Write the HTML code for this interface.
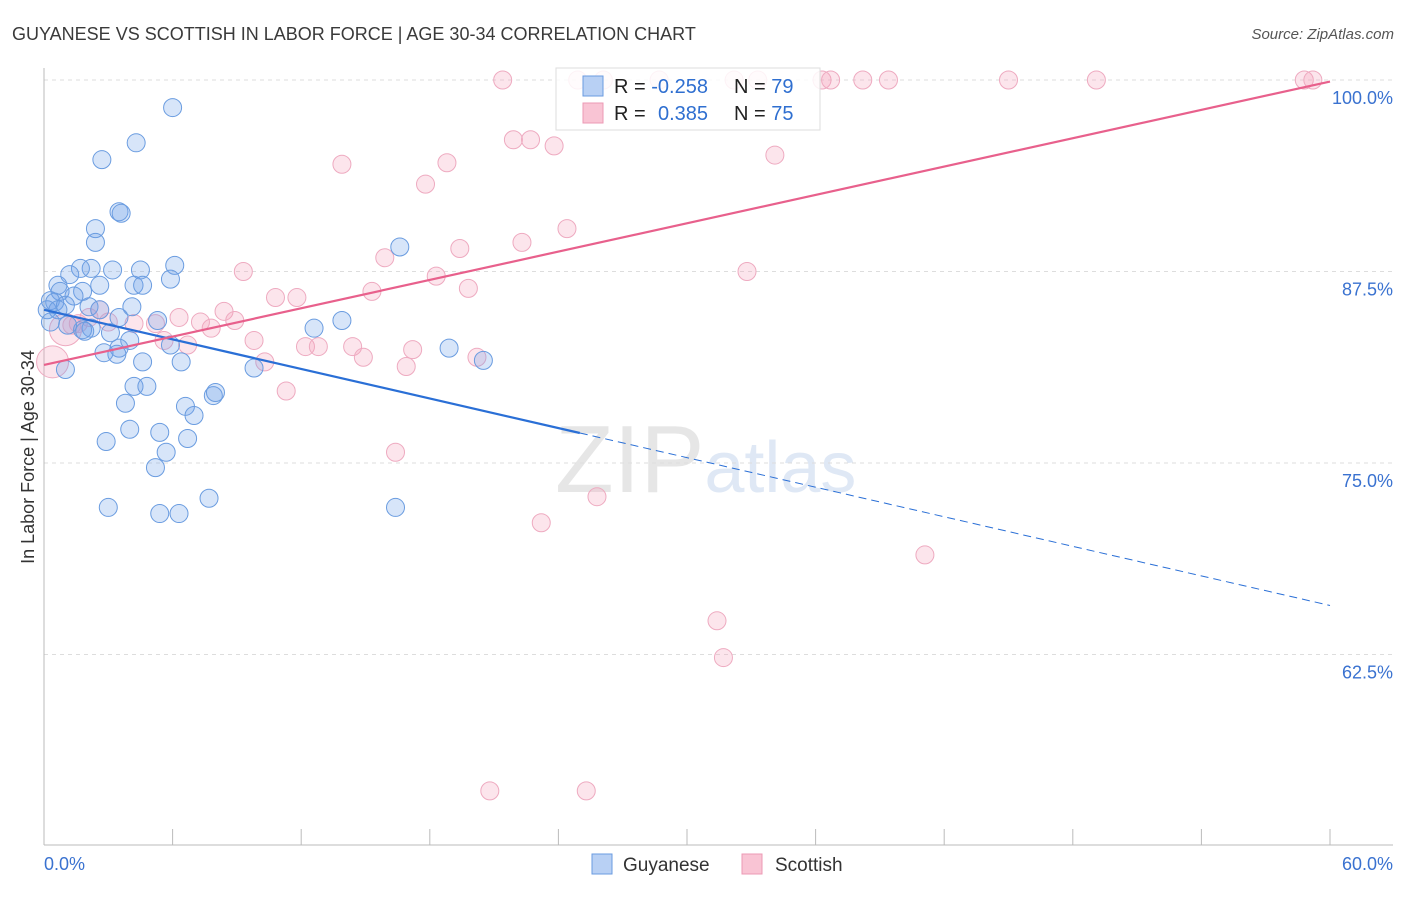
<!DOCTYPE html>
<html><head><meta charset="utf-8"><style>
body{margin:0;background:#fff;font-family:"Liberation Sans",sans-serif}
svg text{font-family:"Liberation Sans",sans-serif}
</style></head><body>
<svg id="c" width="1406" height="892" xmlns="http://www.w3.org/2000/svg">
<text x="12" y="40" font-size="18" fill="#3a3a3a">GUYANESE VS SCOTTISH IN LABOR FORCE | AGE 30-34 CORRELATION CHART</text>
<text x="1394" y="39" font-size="15" fill="#555" font-style="italic" text-anchor="end">Source: ZipAtlas.com</text>
<text x="555" y="492" font-size="96" fill="#e6e6e6" font-family="Liberation Serif">ZIP<tspan fill="#dfe8f5" font-family="Liberation Sans" font-size="72">atlas</tspan></text>
<text transform="translate(34,457) rotate(-90)" font-size="18" fill="#333" text-anchor="middle">In Labor Force | Age 30-34</text>
<g id="grid"></g><g id="pts"></g><g id="lines"></g>
<g>
<rect x="556" y="68" width="264" height="62" fill="#fff" fill-opacity="0.85" stroke="#ddd"/>
<rect x="583" y="76" width="20" height="20" fill="#b8d0f4" stroke="#6a9be0"/>
<rect x="583" y="103" width="20" height="20" fill="#f9c4d4" stroke="#ec9ab4"/>
<text x="614" y="93" font-size="20" fill="#222">R = <tspan fill="#2f6fd0">-0.258</tspan></text>
<text x="734" y="93" font-size="20" fill="#222">N = <tspan fill="#2f6fd0">79</tspan></text>
<text x="614" y="120" font-size="20" fill="#222">R = <tspan fill="#2f6fd0" x="658">0.385</tspan></text>
<text x="734" y="120" font-size="20" fill="#222">N = <tspan fill="#2f6fd0">75</tspan></text>
</g>
<g>
<rect x="592" y="854" width="20" height="20" fill="#b8d0f4" stroke="#6a9be0"/>
<text x="623" y="871" font-size="19" fill="#333">Guyanese</text>
<rect x="742" y="854" width="20" height="20" fill="#f9c4d4" stroke="#ec9ab4"/>
<text x="775" y="871" font-size="19" fill="#333">Scottish</text>
</g>
</svg>
<script>
const blueX=[6.0,2.7,4.3,3.5,3.6,2.4,2.4,16.6,6.1,2.2,1.7,3.2,4.5,5.9,1.2,0.65,4.2,4.6,2.6,1.8,0.75,1.4,0.3,0.5,0.15,1.0,2.1,4.1,0.65,2.6,3.5,13.9,5.3,0.3,1.1,2.2,12.6,1.8,3.1,1.9,5.9,4.0,3.5,2.8,3.4,18.9,20.5,6.4,4.6,9.8,1.0,4.2,4.8,3.8,7.9,8.0,6.6,7.0,4.0,5.4,2.9,6.7,5.7,5.2,3.0,7.7,16.4,5.4,6.3];
const blueY=[98.2,94.8,95.9,91.4,91.3,90.3,89.4,89.1,87.9,87.7,87.7,87.6,87.6,87.0,87.3,86.6,86.6,86.6,86.6,86.2,86.2,85.9,85.6,85.5,85.0,85.3,85.2,85.2,85.0,85.0,84.5,84.3,84.3,84.2,84.0,83.8,83.8,83.7,83.5,83.6,82.7,83.0,82.5,82.2,82.1,82.5,81.7,81.6,81.6,81.2,81.1,80.0,80.0,78.9,79.4,79.6,78.7,78.1,77.2,77.0,76.4,76.6,75.7,74.7,72.1,72.7,72.1,71.7,71.7];
const pinkX=[21.4,24.9,26.1,28.7,32.2,33.3,36.3,36.7,38.2,39.4,45.0,49.1,58.8,59.2,21.9,22.7,23.8,13.9,18.8,17.8,34.1,24.4,22.3,19.4,15.9,9.3,32.8,18.3,19.8,11.8,10.8,15.3,8.4,6.3,8.9,7.8,7.3,5.2,4.2,3.0,2.6,2.1,1.6,1.3,9.8,12.2,12.8,14.4,14.9,17.2,16.9,10.3,6.7,5.6,20.2,11.3,16.4,25.8,23.2,41.1,31.4,31.7,20.8,25.3,0.4,1.0];
const pinkY=[100,100,100,100,100,100,100,100,100,100,100,100,100,100,96.1,96.1,95.7,94.5,94.6,93.2,95.1,90.3,89.4,89.0,88.4,87.5,87.5,87.2,86.4,85.8,85.8,86.2,84.9,84.5,84.3,83.8,84.2,84.1,84.1,84.2,85.0,84.5,84.1,84.0,83.0,82.6,82.6,82.6,81.9,82.4,81.3,81.6,82.7,83.0,81.9,79.7,75.7,72.8,71.1,69.0,64.7,62.3,53.6,53.6,81.6,83.7];
const pinkR=pinkX.map((v,i)=>i>=64?16:9);
const blueLine=[85.0,65.7], blueSolidEnd=25.0;
const pinkLine=[81.4,99.9];
const yTicks=[100,87.5,75,62.5], yTickLabels=["100.0%","87.5%","75.0%","62.5%"];
const xTicks=[0,6,12,18,24,30,36,42,48,54,60];
const NS="http://www.w3.org/2000/svg";
const X=v=>44+v/60*1286, Y=v=>80+(100-v)/12.5*191.5;
function mk(p,t,a){const e=document.createElementNS(NS,t);for(const k in a)e.setAttribute(k,a[k]);p.appendChild(e);return e;}
const g=document.getElementById('grid'),P=document.getElementById('pts'),L=document.getElementById('lines');
yTicks.forEach((t,i)=>{const l=mk(g,'line',{x1:44,x2:1393,y1:Y(t),y2:Y(t),stroke:'#ddd','stroke-dasharray':'4,4'});


const tx=mk(g,'text',{x:1393,y:Y(t)+24,'font-size':18,fill:'#3a72d0','text-anchor':'end'});tx.textContent=yTickLabels[i];

});
const ax=mk(g,'line',{x1:44,x2:44,y1:68,y2:845,stroke:'#bbb'});


const bx=mk(g,'line',{x1:44,x2:1393,y1:845,y2:845,stroke:'#bbb'});


xTicks.forEach(t=>{const l=mk(g,'line',{x1:X(t),x2:X(t),y1:829,y2:845,stroke:'#bbb'});

});
const x0=mk(g,'text',{x:44,y:870,'font-size':18,fill:'#3a72d0'});x0.textContent='0.0%';


const x1=mk(g,'text',{x:1393,y:870,'font-size':18,fill:'#3a72d0','text-anchor':'end'});x1.textContent='60.0%';


pinkX.forEach((v,i)=>{const c=mk(P,'circle',{cx:X(v),cy:Y(pinkY[i]),r:pinkR[i],fill:'rgba(244,160,188,0.28)',stroke:'#eeaac0','stroke-width':1});

});
blueX.forEach((v,i)=>{const c=mk(P,'circle',{cx:X(v),cy:Y(blueY[i]),r:9,fill:'rgba(110,160,235,0.28)',stroke:'#6a9ce0','stroke-width':1});

});
const bAt=x=>blueLine[0]+(blueLine[1]-blueLine[0])*x/60;
const bl=mk(L,'line',{x1:X(0),y1:Y(bAt(0)),x2:X(blueSolidEnd),y2:Y(bAt(blueSolidEnd)),stroke:'#2a6fd6','stroke-width':2.2});


const bd=mk(L,'line',{x1:X(blueSolidEnd),y1:Y(bAt(blueSolidEnd)),x2:X(60),y2:Y(bAt(60)),stroke:'#2a6fd6','stroke-width':1,'stroke-dasharray':'8,5'});


const pl=mk(L,'line',{x1:X(0),y1:Y(pinkLine[0]),x2:X(60),y2:Y(pinkLine[1]),stroke:'#e8608c','stroke-width':2.2});


</script>
</body></html>
